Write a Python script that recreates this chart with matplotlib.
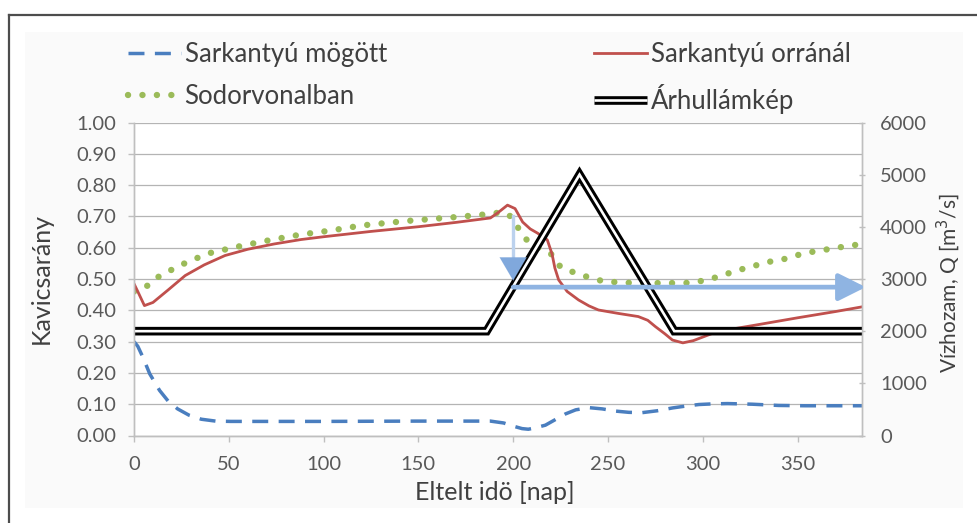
import matplotlib.pyplot as plt
from matplotlib.legend_handler import HandlerTuple
from matplotlib.lines import Line2D
from matplotlib.patches import Rectangle

plt.rcParams["font.family"] = ["Lato", "DejaVu Sans"]

# Sarkantyú orránál (left axis, gravel ratio)
RED_DAYS = [0, 2, 5.5, 10, 18, 27, 37, 48, 60, 74, 88, 100, 125, 150, 170, 188,
            192, 197, 201, 205, 209, 213, 218, 220.5, 222, 224, 228.5, 234.5, 240,
            245, 255.5, 266, 271, 275, 280, 284, 289.5, 295, 305, 313.5, 330, 350,
            370, 384]
RED_VALUES = [0.485, 0.46, 0.415, 0.425, 0.465, 0.511, 0.545, 0.575, 0.595, 0.612,
              0.626, 0.635, 0.652, 0.667, 0.681, 0.695, 0.712, 0.736, 0.725, 0.682,
              0.66, 0.646, 0.625, 0.58, 0.535, 0.497, 0.46, 0.433, 0.414, 0.401,
              0.39, 0.38, 0.368, 0.348, 0.325, 0.305, 0.296, 0.303, 0.326, 0.338,
              0.355, 0.376, 0.396, 0.411]

# Sodorvonalban
GREEN_DAYS = [0, 6.5, 12.6, 19.7, 26.7, 33.7, 41.6, 49.5, 57.4, 72.3, 88, 104, 120,
              143, 168, 183, 191, 196, 198.6, 203, 207.4, 214.4, 220.5, 225, 232.5,
              240, 248, 260, 275, 290, 295, 303, 310, 318, 326, 334, 342, 349, 357,
              364, 373, 384]
GREEN_VALUES = [0.46, 0.476, 0.506, 0.529, 0.55, 0.568, 0.586, 0.596, 0.607, 0.625,
                0.642, 0.655, 0.671, 0.685, 0.697, 0.705, 0.711, 0.712, 0.70, 0.66,
                0.623, 0.596, 0.578, 0.538, 0.52, 0.505, 0.492, 0.488, 0.487, 0.487,
                0.489, 0.498, 0.511, 0.527, 0.54, 0.554, 0.562, 0.575, 0.586, 0.593,
                0.602, 0.612]

# Sarkantyú mögött
BLUE_DAYS = [0, 2, 4.7, 8.3, 13.5, 18, 23, 29, 35.5, 43, 51, 100, 150, 188, 195, 200,
             204.7, 208, 212, 217, 222, 227.6, 233, 240, 247, 254, 261, 268, 276,
             284, 291, 298, 305, 313, 320, 326, 333, 340, 354, 370, 384]
BLUE_VALUES = [0.30, 0.285, 0.25, 0.197, 0.144, 0.11, 0.085, 0.065, 0.052, 0.046,
               0.045, 0.045, 0.046, 0.046, 0.04, 0.03, 0.022, 0.02, 0.025, 0.033,
               0.05, 0.069, 0.082, 0.089, 0.085, 0.078, 0.074, 0.073, 0.079, 0.088,
               0.094, 0.099, 0.101, 0.102, 0.101, 0.1, 0.098, 0.096, 0.095, 0.095,
               0.095]

# Árhullámkép (right axis, discharge m3/s)
FLOOD_DAYS = [0, 186, 235, 285, 384]
FLOOD_Q = [2000, 2000, 5000, 2000, 2000]

# annotation arrows: drop at the start of the flood, then the threshold level
ARROW_DAY = 200
DROP_FROM, DROP_TO = 0.70, 0.495
LEVEL = 0.474
LEVEL_END_DAY = 386

X_MAX = 384
Q_MAX = 6000
LABEL_LEFT = "Kavicsarány"
LABEL_RIGHT = "Vízhozam, Q [m$^3$/s]"
LABEL_X = "Eltelt idö [nap]"

TICK_COLOR = "#595959"
GRID_COLOR = "#b4b4b4"
AXIS_COLOR = "#bfbfbf"
TEXT_COLOR = "#404040"

fig = plt.figure(figsize=(9.78, 5.23), dpi=100)
fig.patch.set_facecolor("white")

# faint chart area and the dark frame at top and left
fig.add_artist(Rectangle((25 / 978, 1 - 508 / 523), 938 / 978, 476 / 523,
                         transform=fig.transFigure, facecolor="#fafafa",
                         edgecolor="none", zorder=-5))
fig.add_artist(Line2D([9 / 978, 1], [1 - 15 / 523, 1 - 15 / 523],
                      transform=fig.transFigure, color="#4d4d4d", lw=1.6))
fig.add_artist(Line2D([9 / 978, 9 / 978], [0, 1 - 15 / 523],
                      transform=fig.transFigure, color="#4d4d4d", lw=1.6))

ax = fig.add_axes([134 / 978, 1 - 435.5 / 523, 728 / 978, 313 / 523])
ax.set_facecolor("white")
ax2 = ax.twinx()

blue, = ax.plot(BLUE_DAYS, BLUE_VALUES, color="#4a7ebf", lw=2.5,
                dashes=(4.6, 3.0), label="Sarkantyú mögött")
green, = ax.plot(GREEN_DAYS, GREEN_VALUES, color="#9bbb59", lw=4.6,
                 dashes=(0.01, 2.25), dash_capstyle="round", label="Sodorvonalban")
red, = ax.plot(RED_DAYS, RED_VALUES, color="#c0504d", lw=2.0,
               label="Sarkantyú orránál")

flood_outer, = ax2.plot(FLOOD_DAYS, FLOOD_Q, color="black", lw=6.2,
                        solid_joinstyle="miter", solid_capstyle="butt")
flood_inner, = ax2.plot(FLOOD_DAYS, FLOOD_Q, color="white", lw=1.9,
                        solid_joinstyle="miter", solid_capstyle="butt")

ax.set_xlim(0, X_MAX)
ax.set_ylim(0, 1)
ax2.set_ylim(0, Q_MAX)
ax.set_xticks(range(0, 351, 50))
ax.set_yticks([i / 10 for i in range(11)])
ax.set_yticklabels([f"{i / 10:.2f}" for i in range(11)])
ax2.set_yticks(range(0, Q_MAX + 1, 1000))

ax.grid(axis="y", color=GRID_COLOR, lw=0.9)
ax.set_axisbelow(True)
for a in (ax, ax2):
    a.spines["top"].set_visible(False)
    for side in ("left", "right", "bottom"):
        a.spines[side].set_color(AXIS_COLOR)
        a.spines[side].set_linewidth(1.0)

ax.tick_params(axis="both", labelsize=14.5, labelcolor=TICK_COLOR, color=AXIS_COLOR,
               length=4, width=1.0, direction="out")
ax.tick_params(axis="y", pad=9)
ax.tick_params(axis="x", pad=11)
ax2.tick_params(axis="y", labelsize=14.5, labelcolor=TICK_COLOR, color=AXIS_COLOR,
                length=4, width=1.0, direction="inout", pad=11)

ax.set_ylabel(LABEL_LEFT, fontsize=18, color=TEXT_COLOR)
ax.yaxis.set_label_coords(-0.111, 0.5)
ax2.set_ylabel(LABEL_RIGHT, fontsize=15, color=TEXT_COLOR, rotation=90)
ax2.yaxis.set_label_coords(1.099, 0.487)
ax.set_xlabel(LABEL_X, fontsize=18, color=TEXT_COLOR)
ax.xaxis.set_label_coords(0.496, -0.145)

# arrows marking the drop and the discharge threshold
ax2.plot([ARROW_DAY, ARROW_DAY], [DROP_FROM * Q_MAX, (DROP_TO + 0.07) * Q_MAX],
         color="#bcd2ee", lw=2.4, zorder=6)
ax2.annotate("", xy=(ARROW_DAY, DROP_TO * Q_MAX),
             xytext=(ARROW_DAY, (DROP_TO + 0.08) * Q_MAX),
             arrowprops=dict(arrowstyle="-|>,head_length=1.66,head_width=0.97",
                             color="#80a8dc", lw=0.1, shrinkA=0, shrinkB=0,
                             mutation_scale=10),
             zorder=7)
ax2.annotate("", xy=(LEVEL_END_DAY, LEVEL * Q_MAX), xytext=(ARROW_DAY, LEVEL * Q_MAX),
             arrowprops=dict(arrowstyle="-|>,head_length=1.66,head_width=0.83",
                             color="#8fb4e2", lw=3.4, shrinkA=0, shrinkB=0,
                             mutation_scale=10),
             annotation_clip=False, zorder=7)

legend_kw = dict(loc="upper left", frameon=False, fontsize=18.5, borderpad=0,
                 borderaxespad=0, handlelength=2.05, handletextpad=0.15,
                 labelspacing=0.66, labelcolor=TEXT_COLOR)
fig.legend([blue, green], ["Sarkantyú mögött", "Sodorvonalban"],
           bbox_to_anchor=(128 / 978, 1 - 42 / 523), **legend_kw)
fig.legend([red, (flood_outer, flood_inner)], ["Sarkantyú orránál", "Árhullámkép"],
           bbox_to_anchor=(594 / 978, 1 - 42 / 523),
           handler_map={tuple: HandlerTuple(ndivide=1)}, **legend_kw)

fig.savefig("out.png", dpi=100)
